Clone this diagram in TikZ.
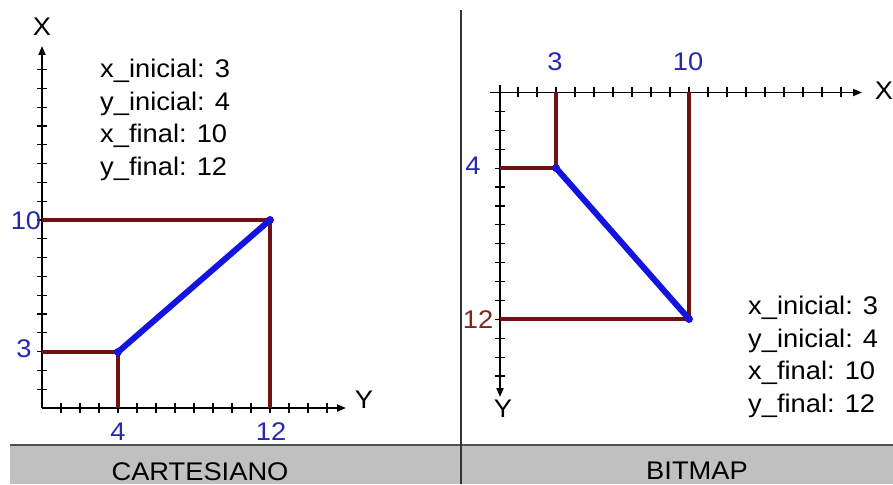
\documentclass[tikz,border=0pt]{standalone}
\usepackage{fontspec}
\setmainfont{Liberation Sans}
\usetikzlibrary{arrows.meta}
\definecolor{guidered}{RGB}{112,18,18}
\definecolor{segblue}{RGB}{20,20,225}
\definecolor{lblblue}{RGB}{40,40,175}
\definecolor{lblred}{RGB}{130,35,30}
\definecolor{barfill}{RGB}{192,192,192}
\definecolor{barline}{RGB}{80,80,80}
\begin{document}
\begin{tikzpicture}[x=1pt,y=-1pt,
  axis/.style={line width=1.8pt,-{Triangle[length=9pt,width=7pt]}},
  tickmark/.style={line width=1.2pt},
  guide/.style={line width=4pt,color=guidered},
  seg/.style={line width=6pt,color=segblue,line cap=round},
  dotpt/.style={circle,fill=segblue,inner sep=0pt,minimum size=8pt},
  txt/.style={font=\fontsize{25.5}{32.5}\selectfont,xscale=1.07,inner sep=0pt},
  numb/.style={txt,text=lblblue},
  info/.style={txt,align=left,anchor=north west},
  bar/.style={fill=barfill},
  barborder/.style={line width=2pt,color=barline},
  sep/.style={line width=1.8pt,color=black!80}
]
\useasboundingbox (0,0) rectangle (893,484);
% ---------- bottom bars ----------
\fill[bar] (10,445) rectangle (893,484);
\draw[barborder] (10,445) -- (893,445);
\node[txt,anchor=base] (cart) at (200,480) {CARTESIANO};
\node[txt,anchor=base] (bitm) at (697,479) {BITMAP};
% separator
\coordinate (s1) at (461,10);
\coordinate (s2) at (461,484);
\draw[sep] (s1) -- (s2);

% ---------- left: cartesian ----------
\coordinate (o1) at (42,408);
\coordinate (xt1) at (42,46);
\coordinate (yt1) at (346,408);
\foreach \k in {1,...,18} \draw[tickmark] (37,{408-18.8*\k}) -- (47,{408-18.8*\k});
\foreach \k in {1,...,15} \draw[tickmark] ({42+19*\k},403) -- ({42+19*\k},413);
\draw[axis] (o1) -- (xt1);
\draw[axis] (o1) -- (yt1);
\node[txt] (lX) at (42,27) {X};
\node[txt] (lY) at (364,400) {Y};

\coordinate (a1) at (118,352);
\coordinate (b1) at (270,220);
\coordinate (a1x) at (42,352);
\coordinate (a1y) at (118,408);
\coordinate (b1x) at (42,220);
\coordinate (b1y) at (270,408);
\draw[guide] (b1x) -- (b1) -- (b1y);
\draw[guide] (a1x) -- (a1) -- (a1y);
\draw[seg] (a1) -- (b1);
\node[dotpt] (d1) at (a1) {};
\node[dotpt] (d2) at (b1) {};
\node[numb] (n10) at (26,221) {10};
\node[numb] (n3) at (24,349) {3};
\node[numb] (n4) at (118,432) {4};
\node[numb] (n12) at (271,432) {12};
\node[info] (info1) at (100,59) {x\_inicial: 3\\y\_inicial: 4\\x\_final: 10\\y\_final: 12};

% ---------- right: bitmap ----------
\coordinate (o2) at (500,92.5);
\coordinate (x0) at (490,92.5);
\coordinate (y0) at (500,85);
\coordinate (xt2) at (862,92.5);
\coordinate (yt2) at (500,397);
\foreach \k in {1,...,18} \draw[tickmark] ({499+19*\k},87.5) -- ({499+19*\k},97.5);
\foreach \k in {1,...,15} \draw[tickmark] (495,{92.5+18.9*\k}) -- (505,{92.5+18.9*\k});
\draw[axis] (x0) -- (xt2);
\draw[axis] (y0) -- (yt2);
\node[txt] (rX) at (884,91) {X};
\node[txt] (rY) at (503,409) {Y};

\coordinate (a2) at (556,168);
\coordinate (b2) at (689,319);
\coordinate (a2x) at (500,168);
\coordinate (a2y) at (556,92.5);
\coordinate (b2x) at (500,319);
\coordinate (b2y) at (689,92.5);
\draw[guide] (a2x) -- (a2) -- (a2y);
\draw[guide] (b2x) -- (b2) -- (b2y);
\draw[seg] (a2) -- (b2);
\node[dotpt] (d3) at (a2) {};
\node[dotpt] (d4) at (b2) {};
\node[numb] (m3) at (555,62) {3};
\node[numb] (m10) at (688,62) {10};
\node[numb] (m4) at (473,166) {4};
\node[txt,text=lblred] (m12) at (478,320) {12};
\node[info] (info2) at (748,296) {x\_inicial: 3\\y\_inicial: 4\\x\_final: 10\\y\_final: 12};
\end{tikzpicture}
\end{document}
